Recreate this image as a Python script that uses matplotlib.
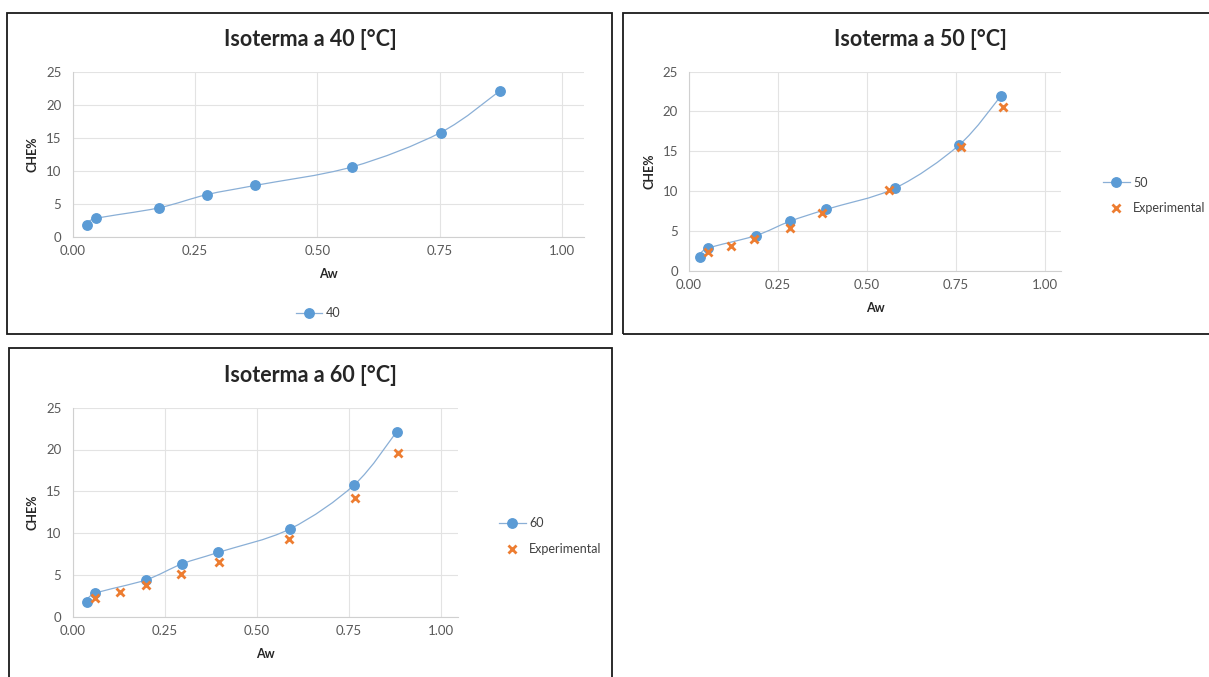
import matplotlib
matplotlib.use("Agg")
import matplotlib.pyplot as plt
from matplotlib.path import Path
from matplotlib.patches import PathPatch, Rectangle
from matplotlib.lines import Line2D

# sorption isotherm data (model curve + experimental points)
aw_40 = [0.030, 0.048, 0.176, 0.274, 0.373, 0.571, 0.752, 0.873]
che_40 = [1.8, 2.8, 4.4, 6.4, 7.8, 10.6, 15.8, 22.1]

aw_50_model = [0.031, 0.052, 0.187, 0.283, 0.385, 0.580, 0.759, 0.877]
che_50_model = [1.7, 2.8, 4.4, 6.2, 7.7, 10.4, 15.8, 22.0]
aw_50_exp = [0.053, 0.118, 0.183, 0.283, 0.375, 0.563, 0.763, 0.882]
che_50_exp = [2.3, 3.1, 4.0, 5.4, 7.2, 10.1, 15.5, 20.6]

aw_60_model = [0.039, 0.062, 0.199, 0.296, 0.396, 0.590, 0.765, 0.879]
che_60_model = [1.7, 2.8, 4.4, 6.3, 7.7, 10.5, 15.8, 22.1]
aw_60_exp = [0.062, 0.128, 0.199, 0.294, 0.398, 0.586, 0.767, 0.883]
che_60_exp = [2.2, 2.9, 3.8, 5.1, 6.5, 9.3, 14.2, 19.6]

x_ticks = [0.0, 0.25, 0.5, 0.75, 1.0]
y_ticks = [0, 5, 10, 15, 20, 25]

# colours
BLUE = "#5B9BD5"
LINE = "#8AAFD6"
ORANGE = "#ED7D31"
GRID = "#E3E3E3"
TICK = "#595959"

W, H = 1209, 677
plt.rcParams['font.family'] = ['Lato', 'DejaVu Sans']

fig = plt.figure(figsize=(W / 100, H / 100), dpi=100)
fig.patch.set_facecolor('white')


def px_rect(left, top, right, bottom):
  # pixel box -> figure fraction [l, b, w, h]
  return [left / W, 1 - bottom / H, (right - left) / W, (bottom - top) / H]


def smooth_path(xs, ys):
  # excel-like smoothed line: cubic bezier segments through every point
  pts = list(zip(xs, ys))
  n = len(pts)
  verts = [pts[0]]
  codes = [Path.MOVETO]
  for i in range(n - 1):
    p0 = pts[i - 1] if i > 0 else pts[i]
    p1 = pts[i]
    p2 = pts[i + 1]
    p3 = pts[i + 2] if i + 2 < n else pts[i + 1]
    c1 = (p1[0] + (p2[0] - p0[0]) / 6, p1[1] + (p2[1] - p0[1]) / 6)
    c2 = (p2[0] - (p3[0] - p1[0]) / 6, p2[1] - (p3[1] - p1[1]) / 6)
    verts += [c1, c2, p2]
    codes += [Path.CURVE4] * 3
  return Path(verts, codes)


def panel(rect, title, title_xy, aw, che, name, exp=None, legend_xy=None, legend_loc='center'):
  ax = fig.add_axes(rect)
  ax.set_xlim(0, 1.045)
  ax.set_ylim(0, 25)
  ax.set_xticks(x_ticks)
  ax.set_yticks(y_ticks)
  ax.xaxis.set_major_formatter(plt.FormatStrFormatter('%.2f'))
  ax.tick_params(length=0, labelsize=9.5, labelcolor=TICK, pad=6)
  ax.tick_params(axis='y', pad=8)
  ax.grid(True, color=GRID, linewidth=0.8)
  ax.set_axisbelow(True)
  for s in ['top', 'right']:
    ax.spines[s].set_visible(False)
  for s in ['left', 'bottom']:
    ax.spines[s].set_color('#D0D0D0')
    ax.spines[s].set_linewidth(0.8)

  # model curve
  ax.add_patch(PathPatch(smooth_path(aw, che), facecolor='none', edgecolor=LINE, linewidth=0.9, zorder=3))
  ax.plot(aw, che, 'o', color=BLUE, markersize=6.8, zorder=4)
  handles = [Line2D([], [], color=LINE, linewidth=0.9, marker='o', markerfacecolor=BLUE,
                    markeredgecolor=BLUE, markersize=6.8, label=name)]

  if exp is not None:
    ax.plot(exp[0], exp[1], 'x', color=ORANGE, markersize=6, markeredgewidth=2, zorder=5)
    handles.append(Line2D([], [], linestyle='none', marker='x', color=ORANGE, markersize=6,
                          markeredgewidth=2, label='Experimental'))

  ax.set_xlabel('Aw', fontsize=9, fontweight='bold', color='#262626', labelpad=8)
  ax.set_ylabel('CHE%', fontsize=9, fontweight='bold', color='#262626', labelpad=5)

  fig.text(title_xy[0] / W, 1 - title_xy[1] / H, title, fontsize=15.5, fontweight='bold',
           color='#262626', ha='center', va='center')

  ax.legend(handles=handles, loc=legend_loc, bbox_to_anchor=(legend_xy[0] / W, 1 - legend_xy[1] / H),
            bbox_transform=fig.transFigure, frameon=False, fontsize=9, labelcolor='#404040',
            handlelength=2.1, handletextpad=0.3, labelspacing=1.1, borderpad=0)
  return ax


panel(px_rect(72.5, 71.7, 584, 237), 'Isoterma a 40 [°C]', (310, 40), aw_40, che_40, '40',
      legend_xy=(318, 313))

panel(px_rect(689, 71.7, 1061, 270.7), 'Isoterma a 50 [°C]', (920, 40), aw_50_model, che_50_model, '50',
      exp=(aw_50_exp, che_50_exp), legend_xy=(1097, 195.5), legend_loc='center left')

panel(px_rect(72.5, 407.7, 457.7, 616.7), 'Isoterma a 60 [°C]', (310, 375), aw_60_model, che_60_model, '60',
      exp=(aw_60_exp, che_60_exp), legend_xy=(493, 536), legend_loc='center left')

# chart frames
for (l, t, r, b) in [(7, 12.7, 612, 334), (622.5, 12.7, 1212, 334), (8.5, 348.3, 612, 680)]:
  fig.add_artist(Rectangle((l / W, 1 - b / H), (r - l) / W, (b - t) / H, transform=fig.transFigure,
                           facecolor='none', edgecolor='#1A1A1A', linewidth=1.3))

fig.savefig('out.png', dpi=100, facecolor='white')
